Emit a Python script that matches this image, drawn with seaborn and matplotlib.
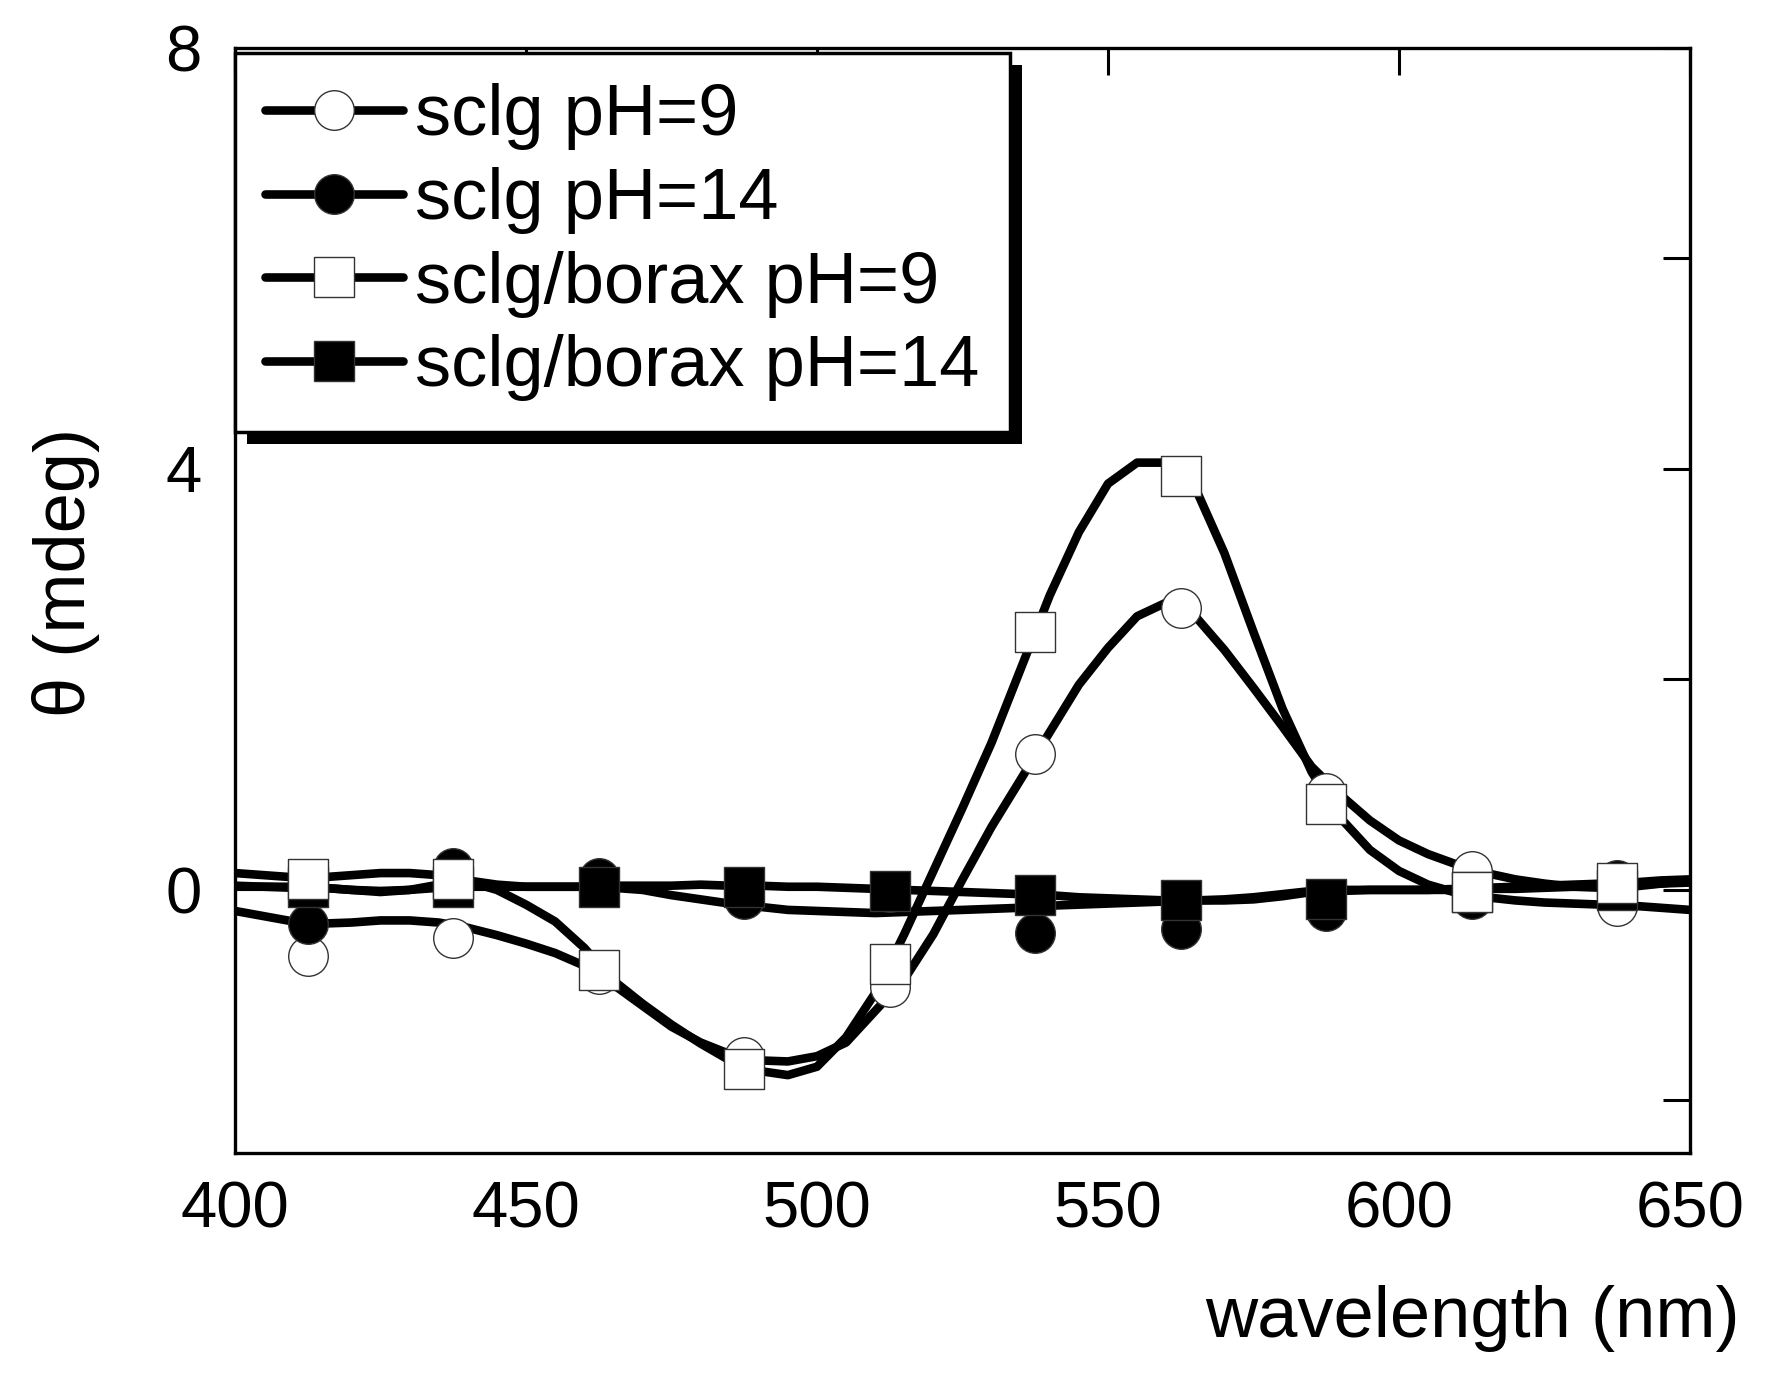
import numpy as np
import pandas as pd
import matplotlib
matplotlib.use("Agg")
import matplotlib.pyplot as plt
from matplotlib.lines import Line2D
from matplotlib.patches import Rectangle
import seaborn as sns

# ---------------- data ----------------
# smooth spectra (line traces), sampled every 5 nm
wavelength = list(range(400, 651, 5))

sclg_ph9_line = [-0.20, -0.25, -0.30, -0.32, -0.31, -0.29, -0.29, -0.31, -0.36, -0.43,
                 -0.51, -0.60, -0.72, -0.90, -1.10, -1.30, -1.45, -1.56, -1.62, -1.63,
                 -1.58, -1.45, -1.15, -0.85, -0.42, 0.10, 0.60, 1.05, 1.50, 1.95,
                 2.30, 2.60, 2.73, 2.60, 2.28, 1.92, 1.55, 1.17, 0.90, 0.66,
                 0.47, 0.34, 0.24, 0.16, 0.10, 0.06, 0.03, 0.02, 0.03, 0.06, 0.09]

sclg_ph14_line = [0.16, 0.14, 0.12, 0.12, 0.14, 0.16, 0.16, 0.14, 0.09, 0.05,
                  0.03, 0.03, 0.03, 0.02, 0.00, -0.05, -0.09, -0.13, -0.16, -0.19,
                  -0.20, -0.21, -0.22, -0.21, -0.20, -0.19, -0.18, -0.17, -0.15, -0.14,
                  -0.13, -0.12, -0.11, -0.10, -0.10, -0.09, -0.06, -0.02, -0.01, 0.00,
                  0.00, 0.00, 0.01, 0.02, 0.03, 0.04, 0.05, 0.06, 0.07, 0.09, 0.10]

borax_ph9_line = [0.03, 0.03, 0.02, 0.02, 0.00, -0.02, 0.00, 0.05, 0.08, 0.00,
                  -0.14, -0.30, -0.55, -0.86, -1.08, -1.28, -1.46, -1.62, -1.72, -1.76,
                  -1.68, -1.40, -0.98, -0.42, 0.18, 0.78, 1.40, 2.10, 2.80, 3.40,
                  3.86, 4.06, 4.06, 3.82, 3.20, 2.45, 1.72, 1.12, 0.68, 0.38,
                  0.18, 0.05, -0.03, -0.07, -0.10, -0.12, -0.13, -0.14, -0.15, -0.17, -0.19]

borax_ph14_line = [0.04, 0.03, 0.03, 0.02, 0.00, -0.01, 0.00, 0.02, 0.03, 0.03,
                   0.03, 0.03, 0.03, 0.04, 0.04, 0.04, 0.05, 0.04, 0.04, 0.03,
                   0.03, 0.02, 0.01, 0.00, -0.01, -0.02, -0.03, -0.04, -0.05, -0.07,
                   -0.08, -0.09, -0.10, -0.10, -0.09, -0.07, -0.04, -0.01, 0.00, 0.00,
                   0.00, 0.00, 0.00, 0.01, 0.01, 0.02, 0.03, 0.04, 0.05, 0.06, 0.07]

# measured points (markers)
marker_wl = [412.5, 437.5, 462.5, 487.5, 512.5, 537.5, 562.5, 587.5, 612.5, 637.5]
sclg_ph9_pts = [-0.63, -0.46, -0.80, -1.59, -0.92, 1.29, 2.68, 0.92, 0.18, -0.15]
sclg_ph14_pts = [-0.32, 0.21, 0.11, -0.09, -0.02, -0.41, -0.37, -0.20, -0.09, 0.09]
borax_ph9_pts = [0.10, 0.10, -0.76, -1.70, -0.70, 2.45, 3.93, 0.82, -0.02, 0.07]
borax_ph14_pts = [0.03, 0.03, 0.03, 0.03, -0.01, -0.05, -0.10, -0.09, -0.02, 0.00]

labels = ["sclg pH=9", "sclg pH=14", "sclg/borax pH=9", "sclg/borax pH=14"]
x_ticks = [400, 450, 500, 550, 600, 650]
y_ticks = [-2, 0, 2, 4, 6, 8]
y_ticklabels = ["", "0", "", "4", "", "8"]

# ---------------- style ----------------
sns.set_style("white")
plt.rcParams["font.family"] = ["Liberation Sans", "DejaVu Sans"]
plt.rcParams["text.color"] = "black"
plt.rcParams["axes.labelcolor"] = "black"
plt.rcParams["xtick.color"] = "black"
plt.rcParams["ytick.color"] = "black"

W, H = 1771, 1382
fig = plt.figure(figsize=(W / 100, H / 100), dpi=100)
ax = fig.add_axes([235 / W, 1 - 1153 / H, (1690 - 235) / W, (1153 - 48) / H])

LW = 6.2
MS = 28.5

lines_df = pd.DataFrame({
    "wavelength": wavelength,
    labels[0]: sclg_ph9_line,
    labels[1]: sclg_ph14_line,
    labels[2]: borax_ph9_line,
    labels[3]: borax_ph14_line,
})
pts_df = pd.DataFrame({
    "wavelength": marker_wl,
    labels[0]: sclg_ph9_pts,
    labels[1]: sclg_ph14_pts,
    labels[2]: borax_ph9_pts,
    labels[3]: borax_ph14_pts,
})

for lab in labels:
    sns.lineplot(data=lines_df, x="wavelength", y=lab, ax=ax, color="black",
                 linewidth=LW, zorder=2, legend=False,
                 solid_joinstyle="round", solid_capstyle="butt")

styles = {
    labels[0]: dict(marker="o", fc="white", z=3.0),
    labels[1]: dict(marker="o", fc="black", z=3.1),
    labels[3]: dict(marker="s", fc="black", z=3.2),
    labels[2]: dict(marker="s", fc="white", z=3.3),
}
for lab in [labels[0], labels[1], labels[3], labels[2]]:
    st = styles[lab]
    sns.scatterplot(data=pts_df, x="wavelength", y=lab, ax=ax, marker=st["marker"],
                    s=MS ** 2, color=st["fc"], edgecolor="#333333", linewidth=1.0,
                    zorder=st["z"], legend=False)

ax.set_xlim(400, 650)
ax.set_ylim(-2.5, 8)
ax.set_xticks(x_ticks)
ax.set_yticks(y_ticks)
ax.set_yticklabels(y_ticklabels)
ax.set_xlabel("")
ax.set_ylabel("")
ax.tick_params(axis="both", which="both", direction="in", length=19.5, width=2.2,
               top=True, right=True, labelsize=47, colors="black")
ax.tick_params(axis="x", pad=20)
ax.tick_params(axis="y", pad=24)
for sp in ax.spines.values():
    sp.set_visible(True)
    sp.set_linewidth(2.4)
    sp.set_color("black")

fig.text(1740 / W, 1 - 1337 / H, "wavelength (nm)", ha="right", va="baseline",
         fontsize=52, color="black")
fig.text(66 / W, 0.586, "\u03b8 (mdeg)", rotation=90, ha="center", va="center",
         fontsize=52, color="black")

handles = []
for lab in labels:
    st = styles[lab]
    handles.append(Line2D([0], [0], color="black", lw=LW, marker=st["marker"],
                          markersize=MS, markerfacecolor=st["fc"],
                          markeredgecolor="#333333", markeredgewidth=1.0))
leg = ax.legend(handles, labels, loc="upper left", bbox_to_anchor=(0.0, 1 - 5 / 1105),
                borderaxespad=0.0, fontsize=52, frameon=True, fancybox=False,
                edgecolor="black", framealpha=1.0, borderpad=0.42, labelspacing=0.23,
                handlelength=1.9, handletextpad=0.17, handleheight=0.7)
leg.get_frame().set_linewidth(2.5)
for t in leg.get_texts():
    t.set_color("black")
leg.set_zorder(5)

fig.canvas.draw()
bb = leg.get_frame().get_window_extent(fig.canvas.get_renderer())
inv = ax.transAxes.inverted()
off = 12
(x0, y0) = inv.transform((bb.x0 + off, bb.y0 - off))
(x1, y1) = inv.transform((bb.x1 + off, bb.y1 - off))
ax.add_patch(Rectangle((x0, y0), x1 - x0, y1 - y0, transform=ax.transAxes,
                       facecolor="black", edgecolor="none", zorder=4.9, clip_on=False))

fig.savefig("out.png", dpi=100)
